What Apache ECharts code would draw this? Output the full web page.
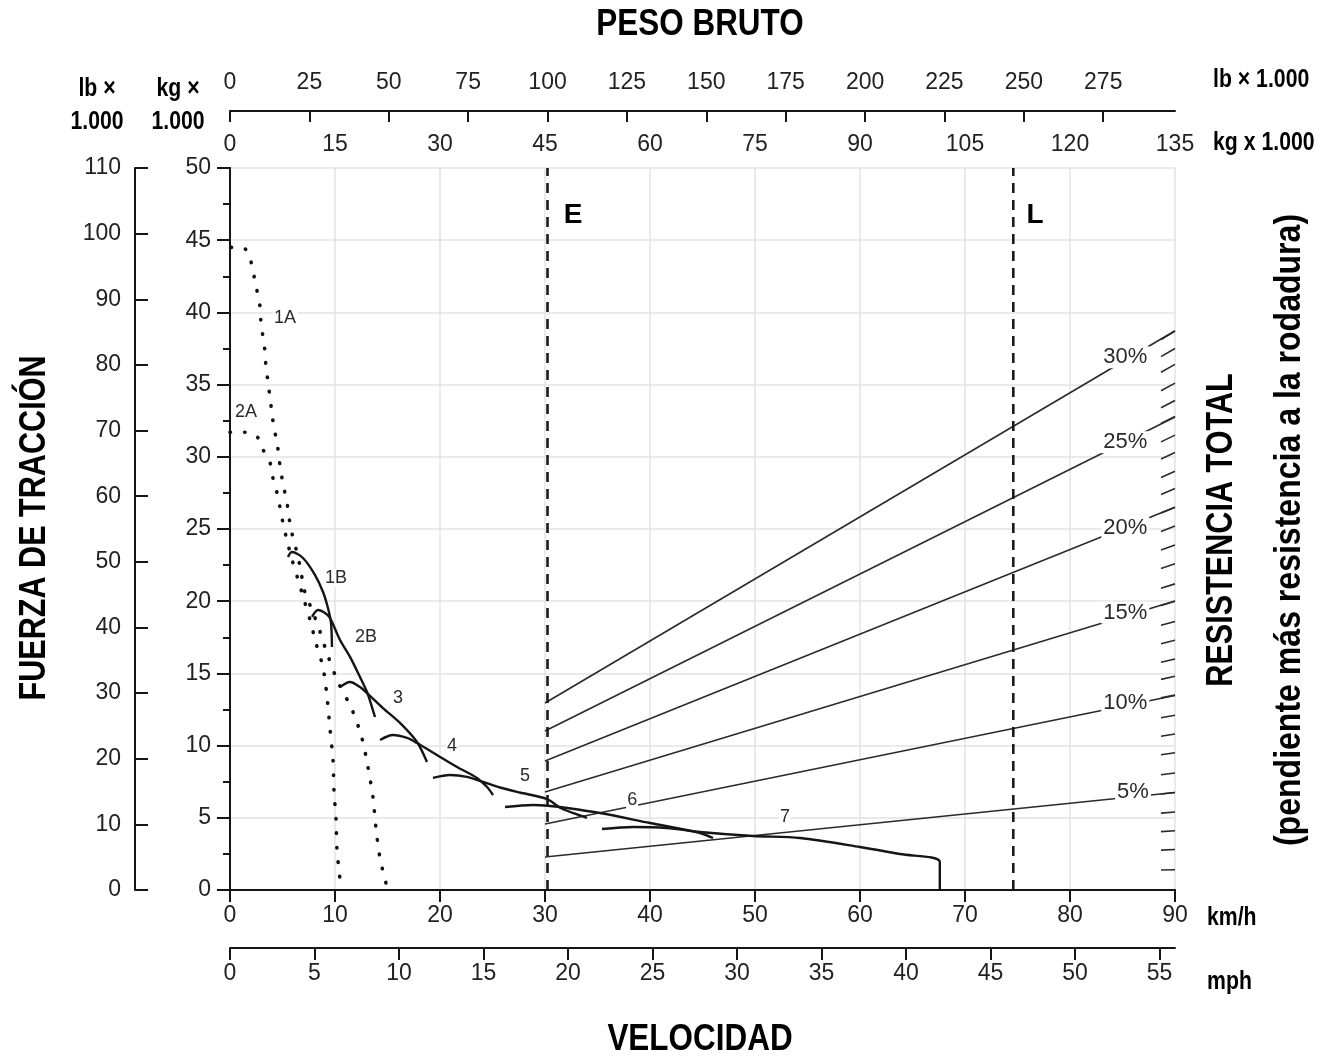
<!DOCTYPE html>
<html><head><meta charset="utf-8">
<script src="https://cdn.jsdelivr.net/npm/echarts@6/dist/echarts.min.js"></script>
<style>html,body{margin:0;padding:0;background:#fff}#c{width:1330px;height:1062px}</style>
</head><body><div id="c"></div>
<script>
// ---- axes ----
const kmhMax = 90;          // km/h (bottom)
const mphMax = 55.92;       // mph (bottom, second)
const kgTopMax = 135;       // kg x 1000 (top)
const lbTopMax = 297.6;     // lb x 1000 (top, second)
const kgYMax = 50;          // kg x 1000 (left)
const lbYMax = 110;         // lb x 1000 (left, second)
const lbTopTicks = [0,25,50,75,100,125,150,175,200,225,250,275];
const mphTicks = [0,5,10,15,20,25,30,35,40,45,50,55];

// ---- rimpull curves: [km/h, kg x 1000] ----
const curve1A = [[0.1,44.5],[1.43,44.4],[2.0,43.5],[2.29,42.5],[2.57,41.5],[2.86,40.4],[2.95,39.3],[3.14,38.3],[3.33,37.3],[3.43,36.2],[3.62,35.2],[3.81,34.1],[4.0,33.0],[4.19,32.0],[4.48,31.0],[4.67,29.9],[4.86,28.9],[5.14,27.8],[5.43,26.8],[5.62,25.8],[5.90,24.7],[6.29,23.6],[6.67,22.4],[7.14,20.6],[7.81,19.4],[8.57,17.9],[9.24,16.4],[10.29,14.4],[11.62,12.5],[12.57,10.5],[13.14,8.5],[13.62,6.4],[13.90,4.3],[14.29,2.2],[14.95,0.2]];
const curve2A = [[0,31.7],[1.43,31.7],[2.57,31.4],[3.14,30.5],[3.81,29.6],[4.10,28.5],[4.48,27.5],[4.76,26.5],[5.05,25.4],[5.43,24.2],[5.90,22.9],[6.48,21.5],[7.05,20.1],[7.62,18.7],[8.19,17.1],[8.86,15.4],[9.24,13.4],[9.52,11.2],[9.81,9.0],[9.90,6.9],[10.10,4.85],[10.19,2.8],[10.48,0.7]];
const curve1B = [[5.52,23.06],[5.90,23.41],[6.95,22.99],[8.10,21.81],[8.86,20.64],[9.33,19.53],[9.62,18.49],[9.71,16.83]];
const curve2B = [[7.81,18.91],[8.38,19.39],[9.05,19.18],[9.52,18.84],[10.48,17.31],[11.43,16.14],[12.38,14.75],[13.05,13.71],[13.52,12.67],[13.81,11.98]];
const curve3 = [[10.48,14.06],[11.43,14.40],[12.38,14.06],[13.05,13.64],[14.57,12.60],[16.19,11.57],[17.81,10.25],[18.76,8.86]];
const curve4 = [[14.29,10.39],[15.52,10.73],[16.86,10.53],[17.81,10.18],[19.71,9.35],[21.62,8.52],[23.52,7.76],[24.48,7.13],[25.05,6.58]];
const curve5 = [[19.33,7.76],[20.95,7.96],[22.57,7.83],[24.10,7.48],[25.71,7.1],[27.6,6.75],[30.2,6.3],[31.43,5.7],[33.0,5.25],[34.0,5.0]];
const curve6 = [[26.19,5.75],[28.86,5.89],[30.48,5.82],[32.1,5.68],[35.24,5.33],[40.0,4.64],[44.76,3.95],[46.0,3.60]];
const curve7 = [[35.43,4.22],[38.4,4.36],[41.6,4.29],[44.76,4.02],[49.8,3.74],[54.3,3.60],[60.0,2.98],[63.8,2.49],[67.6,1.94],[67.6,0]];

const curveNames = ['1A','2A','1B','2B','3','4','5','6','7'];
const curveLabelPos = [[5.24,39.6],[1.52,33.1],[10.1,21.6],[12.95,17.5],[16.0,13.3],[21.14,10.0],[28.1,7.9],[38.3,6.23],[52.86,5.06]];

// ---- total resistance lines (kg x 1000 gross weight -> kg x 1000 force) ----
const grades = ['5%','10%','15%','20%','25%','30%'];
const resStartW = 45, resEndW = 135;
const resStartF = [2.29,4.57,6.79,8.93,11.01,12.95];
const resEndF = [6.75,13.47,20.01,26.51,32.76,38.73];
const gradeLabelPos = [[129.0,6.79],[127.9,12.95],[127.9,19.2],[127.9,25.1],[127.9,31.0],[127.9,36.9]];
const rightTickF = [1.4,2.8,4.1,5.4,6.75,8.1,9.5,10.8,12.1,13.5,14.8,16.0,17.3,18.6,20.0,21.2,22.6,23.9,25.2,26.5,27.8,29.0,30.3,31.5,32.8,33.9,35.1,36.4,37.5,38.7];

// ---- weight limits ----
const limitNames = ['E','L'];
const limitW = [45.36,111.9];
const limitLabelPos = [[49.0,46.75],[115.0,46.75]];

const INK = '#151515', TXT = '#222';
const tickFont = {fontFamily:'"Liberation Sans", Arial, sans-serif', fontSize:23, color:TXT};
const TF = '"Liberation Sans", Arial, sans-serif';

const chart = echarts.init(document.getElementById('c'), null, {renderer:'canvas'});

const series = [];
grades.forEach((g,i)=>{
  series.push({type:'line', name:'res'+g, xAxisIndex:1, yAxisIndex:0, showSymbol:false, silent:true,
    data:[[resStartW,resStartF[i]],[resEndW,resEndF[i]]], lineStyle:{color:'#2a2a2a', width:1.6}, z:3});
});
series.push({type:'custom', xAxisIndex:1, yAxisIndex:0, silent:true, z:3,
  data: rightTickF.map((f,i)=>[kgTopMax,f,i+1]),
  renderItem:(params, api)=>{
    const p = api.coord([api.value(0), api.value(1)]);
    const g = api.value(2); const L = 14; const s = 0.02*g;
    return {type:'line', shape:{x1:p[0]-L, y1:p[1]+L*s, x2:p[0], y2:p[1]}, style:{stroke:'#2a2a2a', lineWidth:1.6}};
  }});
limitW.forEach((w,i)=>{
  series.push({type:'line', xAxisIndex:1, yAxisIndex:0, showSymbol:false, silent:true,
    data:[[w,0],[w,kgYMax]], lineStyle:{color:'#1a1a1a', width:2.6, type:[10,7]}, z:4});
});
const lblBase = {type:'scatter', symbolSize:0, silent:true, itemStyle:{opacity:1}};
series.push(Object.assign({}, lblBase, {xAxisIndex:1, yAxisIndex:0, z:6,
  data: limitLabelPos.map((p,i)=>[p[0],p[1],limitNames[i]]),
  label:{show:true, position:'inside', formatter:p=>p.value[2], fontFamily:TF, fontWeight:'bold', fontSize:28, color:'#000'}}));
series.push(Object.assign({}, lblBase, {xAxisIndex:1, yAxisIndex:0, z:7,
  data: gradeLabelPos.map((p,i)=>[p[0],p[1],grades[i]]),
  label:{show:true, position:'inside', formatter:p=>p.value[2], fontFamily:TF, fontSize:22, color:'#2a2a2a', backgroundColor:'#fff', padding:[0,2]}}));
const curves = [curve1A,curve2A,curve1B,curve2B,curve3,curve4,curve5,curve6,curve7];
curves.forEach((c,i)=>{
  const dotted = i<2;
  series.push({type:'line', name:curveNames[i], xAxisIndex:0, yAxisIndex:0, showSymbol:false, silent:true, smooth:0.3,
    data:c, z:5,
    lineStyle: dotted ? {color:'#111', width:3.6, type:[0.5,14], cap:'round'} : {color:INK, width:2.4}});
});
series.push(Object.assign({}, lblBase, {xAxisIndex:0, yAxisIndex:0, z:8,
  data: curveLabelPos.map((p,i)=>[p[0],p[1],curveNames[i]]),
  label:{show:true, position:'inside', formatter:p=>p.value[2], fontFamily:TF, fontSize:18, color:'#2a2a2a',
    backgroundColor:'#fff', padding:[0,1]}}));

const axisLine = {show:true, lineStyle:{color:INK, width:2}};
function T(x,y,text,size,opt){
  opt = opt||{};
  return {type:'text', x:x, y:y, rotation:opt.rot||0, scaleX:opt.sx||0.85, scaleY:1,
    style:{text:text, font:'bold '+size+'px '+TF, fill:'#000', lineHeight:opt.lh||size,
      align:opt.align||'center', verticalAlign:'middle', textAlign:opt.align||'center', textVerticalAlign:'middle'}};
}
const option = {
  backgroundColor:'#fff',
  animation:false,
  grid:[
    {left:230, top:168, width:945, height:722, show:false},
    {left:135, top:168, width:1, height:722, show:false},
    {left:230, top:110, width:945, height:1, show:false},
    {left:230, top:947, width:945, height:1, show:false}
  ],
  xAxis:[
    {type:'value', gridIndex:0, position:'bottom', min:0, max:kmhMax, interval:10,
      axisLine:axisLine, axisTick:{show:true, inside:false, length:12, lineStyle:{color:INK,width:2}},
      axisLabel:Object.assign({margin:14}, tickFont),
      splitLine:{show:true, lineStyle:{color:'#e3e3e3', width:1.5}}},
    {type:'value', gridIndex:0, position:'top', min:0, max:kgTopMax, interval:15,
      axisLine:axisLine, axisTick:{show:true, inside:true, length:11, lineStyle:{color:INK,width:2}},
      axisLabel:Object.assign({margin:12}, tickFont), splitLine:{show:false}},
    {type:'value', gridIndex:1, show:false},
    {type:'value', gridIndex:2, position:'top', min:0, max:lbTopMax,
      axisLine:axisLine, axisTick:{show:true, inside:true, length:11, lineStyle:{color:INK,width:2}, customValues:lbTopTicks},
      axisLabel:Object.assign({margin:16, customValues:lbTopTicks}, tickFont), splitLine:{show:false}},
    {type:'value', gridIndex:3, position:'bottom', min:0, max:mphMax,
      axisLine:axisLine, axisTick:{show:true, inside:false, length:12, lineStyle:{color:INK,width:2}, customValues:mphTicks},
      axisLabel:Object.assign({margin:14, customValues:mphTicks}, tickFont), splitLine:{show:false}}
  ],
  yAxis:[
    {type:'value', gridIndex:0, position:'left', min:0, max:kgYMax, interval:5,
      axisLine:axisLine, axisTick:{show:true, inside:false, length:13, lineStyle:{color:INK,width:2}},
      minorTick:{show:true, splitNumber:2, length:7, lineStyle:{color:INK,width:2}},
      axisLabel:Object.assign({margin:19}, tickFont),
      splitLine:{show:true, lineStyle:{color:'#e3e3e3', width:1.5}}},
    {type:'value', gridIndex:0, position:'right', min:0, max:kgYMax,
      axisLine:axisLine, axisTick:{show:false}, axisLabel:{show:false}, splitLine:{show:false}},
    {type:'value', gridIndex:1, position:'left', min:0, max:lbYMax, interval:10,
      axisLine:axisLine, axisTick:{show:true, inside:true, length:13, lineStyle:{color:INK,width:2}},
      axisLabel:Object.assign({margin:14}, tickFont), splitLine:{show:false}},
    {type:'value', gridIndex:2, show:false},
    {type:'value', gridIndex:3, show:false}
  ],
  graphic:[
    T(700,25,'PESO BRUTO',37),
    T(700,1040,'VELOCIDAD',37),
    T(97,106,'lb ×\n1.000',25,{lh:33}),
    T(178,106,'kg ×\n1.000',25,{lh:33}),
    T(1213,80,'lb × 1.000',25,{align:'left'}),
    T(1213,143,'kg x 1.000',25,{align:'left'}),
    T(1207,918,'km/h',25,{align:'left'}),
    T(1207,982,'mph',25,{align:'left'}),
    T(35,528,'FUERZA DE TRACCIÓN',36,{rot:Math.PI/2}),
    T(1222,530,'RESISTENCIA TOTAL',36,{rot:Math.PI/2}),
    T(1290,530,'(pendiente más resistencia a la rodadura)',36,{rot:Math.PI/2, sx:0.89})
  ],
  series: series
};
chart.setOption(option);
</script></body></html>
